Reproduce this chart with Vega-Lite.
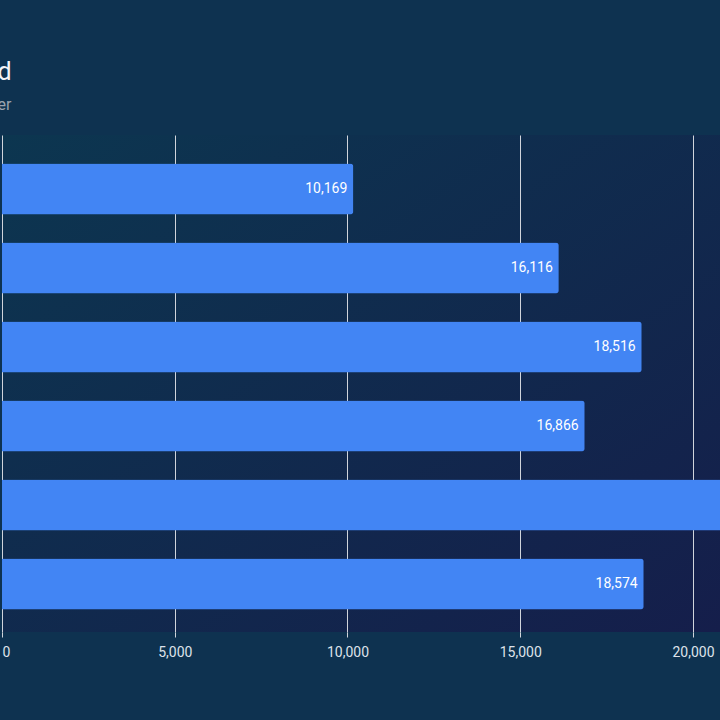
{
  "$schema": "https://vega.github.io/schema/vega-lite/v6.json",
  "width": 718,
  "height": 497,
  "autosize": {"type": "none"},
  "padding": {"left": 2, "top": 135, "right": 0, "bottom": 88},
  "background": "#0e3250",
  "title": {
    "text": "Cinebench R23 Multi-Threaded",
    "subtitle": "Higher is better",
    "anchor": "start",
    "align": "right",
    "dx": 10,
    "offset": 22,
    "font": "Roboto",
    "fontSize": 25,
    "fontWeight": "normal",
    "color": "#f2f4f7",
    "subtitleFont": "Roboto",
    "subtitleFontSize": 16,
    "subtitleColor": "#9aa3ae",
    "subtitlePadding": 12
  },
  "data": {
    "values": [
      {"device": "Laptop A", "score": 10169},
      {"device": "Laptop B", "score": 16116},
      {"device": "Laptop C", "score": 18516},
      {"device": "Laptop D", "score": 16866},
      {"device": "Laptop E", "score": 22300},
      {"device": "Laptop F", "score": 18574}
    ]
  },
  "encoding": {
    "y": {
      "field": "device",
      "type": "nominal",
      "sort": null,
      "scale": {"paddingInner": 0.354, "paddingOuter": 0.3225, "align": 0.56},
      "axis": null
    },
    "x": {
      "field": "score",
      "type": "quantitative",
      "scale": {"domain": [0, 20782], "nice": false, "zero": true},
      "axis": {
        "values": [0, 5000, 10000, 15000, 20000],
        "format": ",.0f",
        "title": null,
        "domain": false,
        "grid": true,
        "gridColor": "#d0d4db",
        "gridWidth": 1,
        "tickColor": "#d0d4db",
        "tickSize": 5,
        "labelColor": "#dde2ea",
        "labelFont": "Roboto",
        "labelFontSize": 14,
        "labelPadding": 8
      }
    }
  },
  "layer": [
    {
      "mark": {"type": "bar", "color": "#4285f4", "cornerRadiusEnd": 3}
    },
    {
      "mark": {"type": "text", "align": "right", "baseline": "middle", "dx": -6, "color": "#ffffff", "font": "Roboto", "fontSize": 14, "clip": true},
      "encoding": {
        "text": {"field": "score", "type": "quantitative", "format": ",.0f"}
      }
    }
  ],
  "config": {
    "view": {
      "stroke": null,
      "fill": {
        "gradient": "linear",
        "x1": 0, "y1": 0, "x2": 1, "y2": 1,
        "stops": [
          {"offset": 0, "color": "#0c3650"},
          {"offset": 1, "color": "#151e4b"}
        ]
      }
    }
  }
}
